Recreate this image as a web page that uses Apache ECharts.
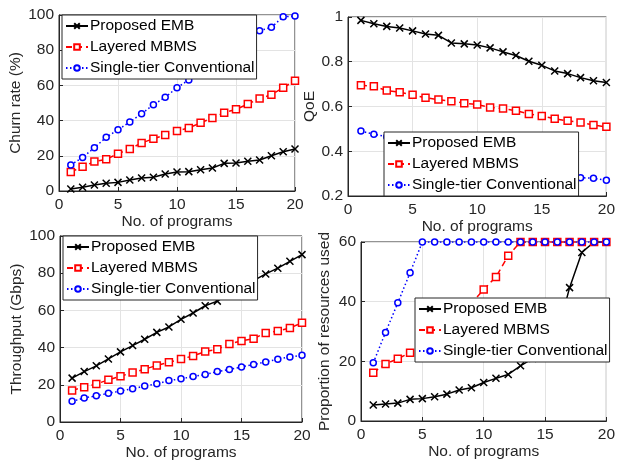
<!DOCTYPE html>
<html>
<head>
<meta charset="utf-8">
<script src="https://cdn.jsdelivr.net/npm/echarts@6/dist/echarts.min.js"></script>
<style>html,body{margin:0;padding:0;background:#fff}#c{width:618px;height:462px}</style>
</head>
<body>
<div id="c"></div>
<script>
var programs = [1,2,3,4,5,6,7,8,9,10,11,12,13,14,15,16,17,18,19,20];
var seriesNames = ['Proposed EMB','Layered MBMS','Single-tier Conventional'];
var xTicks = [0,5,10,15,20];

// Panel 1: Churn rate (%)
var churnEMB    = [1.1,2.1,3.4,4.4,4.9,6.2,7.4,7.8,9.7,10.8,11,12.1,13.1,15.7,15.9,16.9,17.6,20,22.3,23.9];
var churnMBMS   = [10.8,13.8,16.7,18,21.2,23.9,27.3,29.7,31.8,34.1,35.8,38.8,41.5,44.5,46.4,49.4,52.5,54.7,58.7,62.7];
var churnSingle = [14.8,19.1,24.6,30.5,34.8,39.2,43.9,49,53.2,58.7,63.1,67.5,72,77,82,87,91.1,93,99,99.4];

// Panel 2: QoE
var qoeEMB    = [0.985,0.970,0.958,0.951,0.938,0.924,0.918,0.884,0.880,0.875,0.862,0.844,0.828,0.802,0.784,0.759,0.747,0.729,0.715,0.707];
var qoeMBMS   = [0.695,0.691,0.671,0.664,0.652,0.639,0.631,0.624,0.615,0.609,0.596,0.591,0.581,0.567,0.557,0.545,0.536,0.529,0.517,0.509];
var qoeSingle = [0.490,0.476,0.465,0.452,0.440,0.428,0.415,0.403,0.391,0.379,0.367,0.355,0.343,0.330,0.318,0.306,0.294,0.282,0.279,0.270];

// Panel 3: Throughput (Gbps)
var thrEMB    = [23.6,27.1,30.2,33.9,37.7,41.1,44.5,48.2,51.1,55.2,58.6,62.5,65,69,72.5,76,79.6,82.7,86.4,90];
var thrMBMS   = [17,18.75,20.4,22.7,24.6,26.6,28.4,30.4,32.1,33.9,35.5,37.9,39.1,42,43.6,44.8,47.9,48.9,50.5,53.4];
var thrSingle = [11.1,12.9,14.1,15.4,16.6,17.9,19.3,20.5,22.3,23.2,24.5,25.5,27.1,28.2,29.6,30.9,32.3,33.75,35,35.9];

// Panel 4: Proportion of resources used
var resEMB    = [5.35,5.7,6.0,7.25,7.5,8.1,9.0,10.4,11.15,12.9,14.3,15.6,18.5,21,24,29,44.7,56.5,60,60];
var resMBMS   = [16.2,19.1,20.9,22.9,25,27.5,31,35,39.5,44.05,48.3,55.4,60,60,60,60,60,60,60,60];
var resSingle = [19.5,29.7,39.6,49.7,60,60,60,60,60,60,60,60,60,60,60,60,60,60,60,60];

var yNames = ['Churn rate (%)','QoE','Throughput (Gbps)','Proportion of resources used'];
var xName = 'No. of programs';

var FONT = '"Liberation Sans", Arial, Helvetica, sans-serif';
var AX = '#262626';
var FS = 15.5;

function pairs(ys){ return programs.map(function(x,i){ return [x, ys[i]]; }); }

var grids = [
  {left:59, top:15, width:236, height:176},
  {left:348, top:17, width:260, height:179},
  {left:60, top:236, width:242, height:186},
  {left:361, top:242, width:250, height:179}
];
var yCfg = [
  {min:0,max:100,interval:20,gap:35},
  {min:0.2,max:1,interval:0.2,gap:30},
  {min:0,max:100,interval:20,gap:35},
  {min:0,max:60,interval:20,gap:28}
];
var xGaps = [22,20,20,23];
var legendPos = [
  {left:62, top:15},
  {left:384, top:132},
  {left:63, top:236},
  {left:415, top:298}
];
var panelData = [
  [churnEMB, churnMBMS, churnSingle],
  [qoeEMB, qoeMBMS, qoeSingle],
  [thrEMB, thrMBMS, thrSingle],
  [resEMB, resMBMS, resSingle]
];
var styles = [
  {color:'#000000', type:'solid', symbol:'path://M0,0L10,10M10,0L0,10', size:7},
  {color:'#ff0000', type:[6,4], symbol:'rect', size:7},
  {color:'#0000ff', type:[1.5,2.5], symbol:'circle', size:6}
];

var option = {
  backgroundColor:'#ffffff',
  animation:false,
  textStyle:{fontFamily:FONT},
  grid: grids.map(function(g){ return Object.assign({show:true, borderColor:AX, borderWidth:1, backgroundColor:'#ffffff', containLabel:false}, g); }),
  xAxis: grids.map(function(g,i){ return {
    type:'value', gridIndex:i, min:0, max:20, interval:5,
    name:xName, nameLocation:'middle', nameGap:xGaps[i],
    nameTextStyle:{fontSize:FS, color:AX, fontFamily:FONT},
    axisLine:{show:true, lineStyle:{color:AX}},
    axisTick:{show:true, inside:true, length:4, lineStyle:{color:AX}},
    axisLabel:{fontSize:FS, color:AX, margin:6, fontFamily:FONT},
    splitLine:{show:true, lineStyle:{color:'#e3e3e3'}}
  };}),
  yAxis: grids.map(function(g,i){ var c=yCfg[i]; return {
    type:'value', gridIndex:i, min:c.min, max:c.max, interval:c.interval,
    name:yNames[i], nameLocation:'middle', nameGap:c.gap,
    nameTextStyle:{fontSize:FS, color:AX, fontFamily:FONT},
    axisLine:{show:true, lineStyle:{color:AX}},
    axisTick:{show:true, inside:true, length:4, lineStyle:{color:AX}},
    axisLabel:{fontSize:FS, color:AX, margin:5, fontFamily:FONT,
      formatter:function(v){ return String(Math.round(v*10)/10); }},
    splitLine:{show:true, lineStyle:{color:'#e3e3e3'}}
  };}),
  legend: legendPos.map(function(p){ return {
    data:seriesNames, orient:'vertical', left:p.left, top:p.top,
    backgroundColor:'#ffffff', borderColor:'#262626', borderWidth:1, borderRadius:0,
    padding:[3,2,3,3], itemGap:5, itemWidth:22, itemHeight:7,
    textStyle:{fontSize:FS, color:'#000', fontFamily:FONT, padding:[0,0,0,-3]},
    selectedMode:false, z:10
  };}),
  series: []
};

panelData.forEach(function(arrs, pi){
  arrs.forEach(function(ys, si){
    var s = styles[si];
    option.series.push({
      type:'line', name:seriesNames[si], xAxisIndex:pi, yAxisIndex:pi,
      data:pairs(ys), symbol:s.symbol, symbolSize:s.size, showAllSymbol:true,
      lineStyle:{color:s.color, width:1.5, type:s.type},
      itemStyle:{color: si===0 ? s.color : '#ffffff', borderColor:s.color, borderWidth:1.5},
      z:2
    });
  });
});

var chart = echarts.init(document.getElementById('c'), null, {renderer:'canvas'});
chart.setOption(option);
</script>
</body>
</html>
